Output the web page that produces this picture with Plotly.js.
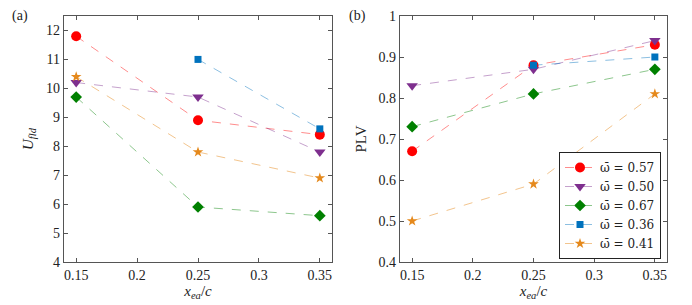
<!DOCTYPE html>
<html>
<head>
<meta charset="utf-8">
<script src="https://cdn.plot.ly/plotly-3.0.1.min.js"></script>
<style>html,body{margin:0;padding:0;background:#fff;}#chart{width:692px;height:305px;}</style>
</head>
<body>
<div id="chart"></div>
<script>
const xPos = [0.15, 0.25, 0.35];
const seriesNames = ['ω\u0304 = 0.57', 'ω\u0304 = 0.50', 'ω\u0304 = 0.67', 'ω\u0304 = 0.36', 'ω\u0304 = 0.41'];
const uFld_057 = [11.8, 8.9, 8.4];
const uFld_050 = [10.2, 9.7, 7.8];
const uFld_067 = [9.7, 5.9, 5.6];
const uFld_036 = [null, 11.0, 8.6];
const uFld_041 = [10.4, 7.8, 6.9];
const plv_057 = [0.67, 0.88, 0.93];
const plv_050 = [0.83, 0.87, 0.94];
const plv_067 = [0.73, 0.81, 0.87];
const plv_036 = [null, 0.88, 0.90];
const plv_041 = [0.50, 0.59, 0.81];
const xTicks = [0.15, 0.2, 0.25, 0.3, 0.35];
const xTickText = ['0.15', '0.2', '0.25', '0.3', '0.35'];
const yTicksA = [4, 5, 6, 7, 8, 9, 10, 11, 12];
const yTicksB = [0.4, 0.5, 0.6, 0.7, 0.8, 0.9, 1];
const yTickTextB = ['0.4', '0.5', '0.6', '0.7', '0.8', '0.9', '1'];

const colors = ['#FF0000', '#7E2F8E', '#008000', '#0072BD', '#E5891C'];
const lineColors = ['rgba(255,0,0,0.45)', 'rgba(126,47,142,0.45)', 'rgba(0,128,0,0.45)', 'rgba(0,114,189,0.45)', 'rgba(229,137,28,0.5)'];
const symbols = ['circle', 'triangle-down', 'diamond', 'square', 'star'];
const sizes = [10, 10, 9, 7, 8];

const dataA = [uFld_057, uFld_050, uFld_067, uFld_036, uFld_041];
const dataB = [plv_057, plv_050, plv_067, plv_036, plv_041];

const traces = [];
dataA.forEach((ys, i) => {
  traces.push({x: xPos, y: ys, xaxis: 'x', yaxis: 'y', type: 'scatter', mode: 'lines+markers',
    name: seriesNames[i], showlegend: false, connectgaps: false,
    line: {color: lineColors[i], width: 1, dash: 'dash'},
    marker: {color: colors[i], symbol: symbols[i], size: sizes[i]}});
});
dataB.forEach((ys, i) => {
  traces.push({x: xPos, y: ys, xaxis: 'x2', yaxis: 'y2', type: 'scatter', mode: 'lines+markers',
    name: seriesNames[i], showlegend: true, connectgaps: false,
    line: {color: lineColors[i], width: 1, dash: 'dash'},
    marker: {color: colors[i], symbol: symbols[i], size: sizes[i]}});
});

const FONT = 'Liberation Serif';
const axisBase = {showline: true, mirror: 'ticks', linecolor: '#555', linewidth: 1.2,
  ticks: 'inside', ticklen: 4, tickcolor: '#555', showgrid: false, zeroline: false,
  tickfont: {family: FONT, size: 14, color: '#222'}};

const layout = {
  width: 692, height: 305,
  margin: {l: 0, r: 0, t: 0, b: 0},
  paper_bgcolor: '#fff', plot_bgcolor: '#fff',
  font: {family: FONT, color: '#222'},
  xaxis: Object.assign({}, axisBase, {domain: [64/692, 332/692], range: [0.14, 0.36], tickvals: xTicks, ticktext: xTickText, anchor: 'y',
    title: {text: '<i>x</i><sub><i>ea</i></sub>/<i>c</i>', font: {family: FONT, size: 15}, standoff: 3}}),
  yaxis: Object.assign({}, axisBase, {domain: [1 - 262/305, 1 - 16/305], range: [4, 12.5], tickvals: yTicksA, anchor: 'x',
    title: {text: '<i>U</i><sub><i>fld</i></sub>', font: {family: FONT, size: 15}, standoff: 8}}),
  xaxis2: Object.assign({}, axisBase, {domain: [400/692, 667/692], range: [0.14, 0.36], tickvals: xTicks, ticktext: xTickText, anchor: 'y2',
    title: {text: '<i>x</i><sub><i>ea</i></sub>/<i>c</i>', font: {family: FONT, size: 15}, standoff: 3}}),
  yaxis2: Object.assign({}, axisBase, {domain: [1 - 262/305, 1 - 16/305], range: [0.4, 1], tickvals: yTicksB, ticktext: yTickTextB, anchor: 'x2',
    title: {text: 'PLV', font: {family: FONT, size: 15}, standoff: 8}}),
  legend: {x: 661/692, y: 1 - 259/305, xanchor: 'right', yanchor: 'bottom',
    bgcolor: '#fff', bordercolor: '#222', borderwidth: 1,
    font: {family: 'DejaVu Serif', size: 12, color: '#222'}, tracegroupgap: 0, itemwidth: 30},
  annotations: [
    {text: '(a)', xref: 'paper', yref: 'paper', x: 20/692, y: 1 - 16/305, xanchor: 'center', yanchor: 'middle', showarrow: false, font: {family: FONT, size: 14, color: '#222'}},
    {text: '(b)', xref: 'paper', yref: 'paper', x: 357/692, y: 1 - 16/305, xanchor: 'center', yanchor: 'middle', showarrow: false, font: {family: FONT, size: 14, color: '#222'}}
  ]
};

Plotly.newPlot('chart', traces, layout, {staticPlot: true, displayModeBar: false});
</script>
</body>
</html>
